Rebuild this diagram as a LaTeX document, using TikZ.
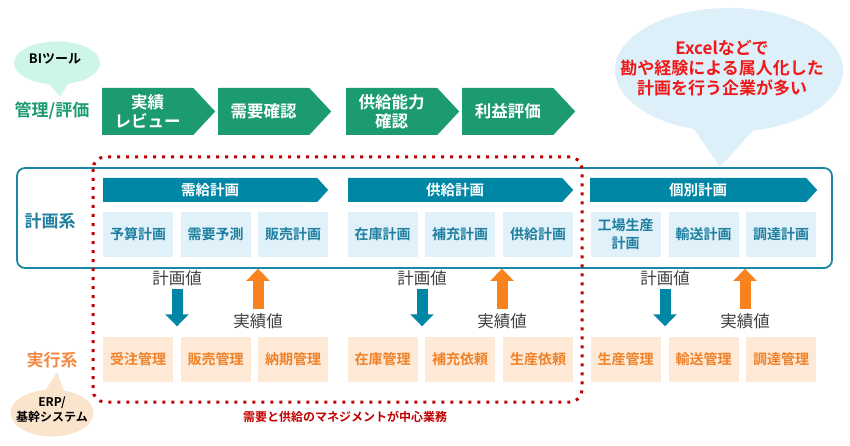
\documentclass[tikz,border=0pt]{standalone}
\usepackage{fontspec}
\setmainfont{Noto Sans CJK JP}[BoldFont={Noto Sans CJK JP Bold}]
\usetikzlibrary{shapes.symbols,shapes.callouts,arrows.meta}
\definecolor{mgmtgreen}{HTML}{1C9B73}
\definecolor{mintbub}{HTML}{CDF5E8}
\definecolor{planteal}{HTML}{0087A5}
\definecolor{planframe}{HTML}{1C87A4}
\definecolor{plantext}{HTML}{1F7F9F}
\definecolor{planlight}{HTML}{E1F1FA}
\definecolor{execlight}{HTML}{FDE9D5}
\definecolor{exectext}{HTML}{F0822A}
\definecolor{execlabel}{HTML}{F58A45}
\definecolor{actorange}{HTML}{F7821E}
\definecolor{notebub}{HTML}{DDEFF9}
\definecolor{notered}{HTML}{F01818}
\definecolor{erpbub}{HTML}{FBE4CC}
\definecolor{corered}{HTML}{C00000}
\definecolor{flowgray}{HTML}{404040}
\tikzstyle{mgmtstep} = [signal, signal to=east, signal pointer angle=94, minimum width=113pt, minimum height=47pt, inner sep=0pt, fill=mgmtgreen, text=white, align=center, font=\bfseries\fontsize{16.5}{19}\selectfont, anchor=west]
\tikzstyle{planhead} = [signal, signal to=east, signal pointer angle=95, minimum height=24pt, inner sep=0pt, fill=planteal, text=white, font=\bfseries\fontsize{14.5}{17}\selectfont, anchor=west]
\tikzstyle{planbox} = [rectangle, minimum width=70pt, minimum height=45pt, inner sep=0pt, fill=planlight, text=plantext, align=center, font=\bfseries\fontsize{14}{18}\selectfont]
\tikzstyle{execbox} = [planbox, fill=execlight, text=exectext]
\tikzstyle{layerlabel} = [font=\bfseries\fontsize{17}{20}\selectfont]
\tikzstyle{flowlabel} = [text=flowgray, font=\fontsize{16.5}{19}\selectfont, inner sep=1pt]
\tikzstyle{planarrow} = [line width=11pt, draw=planteal, -{Triangle[width=23pt,length=12pt]}]
\tikzstyle{actualarrow} = [line width=11pt, draw=actorange, -{Triangle[width=23pt,length=12pt]}]
\tikzstyle{bubble} = [ellipse callout, inner sep=0pt, draw=none]

\begin{document}
\begin{tikzpicture}[x=1pt,y=-1pt]
	\fill[white] (0,0) rectangle (850,446);
	\useasboundingbox (0,0) rectangle (850,446);
	%BI tool bubble
	\node[bubble, fill=mintbub, minimum width=86pt, minimum height=43pt, callout pointer arc=25, callout absolute pointer={(60,97)}] (bibub) at (57,63) {};
	\node[font=\bfseries\fontsize{13}{15}\selectfont] (bitext) at (55,59) {BIツール};
	%Management / evaluation
	\node[layerlabel, text=mgmtgreen] (mgmt) at (52,111) {管理/評価};
	\node[mgmtstep] (review) at (102,111.5) {実績\\レビュー};
	\node[mgmtstep] (demand) at (218,111.5) {需要確認};
	\node[mgmtstep] (supply) at (346,111.5) {供給能力\\確認};
	\node[mgmtstep] (profit) at (462,111.5) {利益評価};
	%Excel bubble
	\node[bubble, fill=notebub, minimum width=228pt, minimum height=124pt, callout pointer arc=30, callout absolute pointer={(720,167)}] (notebub) at (729,70) {};
	\node[text=notered, align=center, font=\bfseries\fontsize{17}{20}\selectfont] (notetext) at (722,68) {Excelなどで\\勘や経験による属人化した\\計画を行う企業が多い};
	%Planning system
	\node[draw=planframe, line width=1.8pt, rounded corners=8pt, minimum width=815pt, minimum height=100pt] (plan) at (424.5,218) {};
	\node[layerlabel, text=plantext] (planlabel) at (50,221) {計画系};
	\node[planhead, minimum width=225pt] (sdhead) at (103,190) {需給計画};
	\node[planhead, minimum width=225pt] (sphead) at (348,190) {供給計画};
	\node[planhead, minimum width=227pt] (indhead) at (590,190) {個別計画};
	\node[planbox] (yosan) at (138,234.5) {予算計画};
	\node[planbox] (juyo) at (215.5,234.5) {需要予測};
	\node[planbox] (hanbai) at (293,234.5) {販売計画};
	\node[planbox] (zaiko) at (382.5,234.5) {在庫計画};
	\node[planbox] (hojuu) at (460,234.5) {補充計画};
	\node[planbox] (kyokyu) at (538,234.5) {供給計画};
	\node[planbox] (kojo) at (625.5,234.5) {工場生産\\計画};
	\node[planbox] (yuso) at (703.5,234.5) {輸送計画};
	\node[planbox] (chotatsu) at (781,234.5) {調達計画};
	%Execution system
	\node[layerlabel, text=execlabel] (execlabel) at (52,360) {実行系};
	\node[execbox] (juchu) at (138,359) {受注管理};
	\node[execbox] (hanbaikanri) at (215.5,359) {販売管理};
	\node[execbox] (noki) at (293,359) {納期管理};
	\node[execbox] (zaikokanri) at (382.5,359) {在庫管理};
	\node[execbox] (hojuirai) at (460,359) {補充依頼};
	\node[execbox] (seisanirai) at (538,359) {生産依頼};
	\node[execbox] (seisankanri) at (625.5,359) {生産管理};
	\node[execbox] (yusokanri) at (703.5,359) {輸送管理};
	\node[execbox] (chotatsukanri) at (781,359) {調達管理};
	%ERP bubble
	\node[bubble, fill=erpbub, minimum width=83pt, minimum height=47pt, callout pointer arc=25, callout absolute pointer={(57,372)}] (erpbub) at (52,413) {};
	\node[align=center, font=\bfseries\fontsize{12}{15}\selectfont] (erptext) at (52,410) {ERP/\\基幹システム};
	%Plan values and actual values
	\node[flowlabel] (pv1) at (177,278) {計画値};
	\node[flowlabel] (pv2) at (422,278) {計画値};
	\node[flowlabel] (pv3) at (665,278) {計画値};
	\node[flowlabel] (av1) at (258,321) {実績値};
	\node[flowlabel] (av2) at (502,321) {実績値};
	\node[flowlabel] (av3) at (745,321) {実績値};
	\draw[planarrow, shorten <=2pt, shorten >=10pt] (pv1.south) -- (pv1 |- juchu.north);
	\draw[planarrow, shorten <=2pt, shorten >=10pt] (pv2.south) -- (pv2 |- zaikokanri.north);
	\draw[planarrow, shorten <=2pt, shorten >=10pt] (pv3.south) -- (pv3 |- seisankanri.north);
	\draw[actualarrow, shorten <=3pt] (av1.north) -- (av1 |- plan.south);
	\draw[actualarrow, shorten <=3pt] (av2.north) -- (av2 |- plan.south);
	\draw[actualarrow, shorten <=3pt] (av3.north) -- (av3 |- plan.south);
	%Core business frame
	\draw[corered, line width=3pt, dash pattern=on 3pt off 6pt, rounded corners=12pt] (93,157) rectangle (582,402);
	\node[text=corered, font=\bfseries\fontsize{12}{14}\selectfont] (corelabel) at (345,417) {需要と供給のマネジメントが中心業務};

\end{tikzpicture}
\end{document}
